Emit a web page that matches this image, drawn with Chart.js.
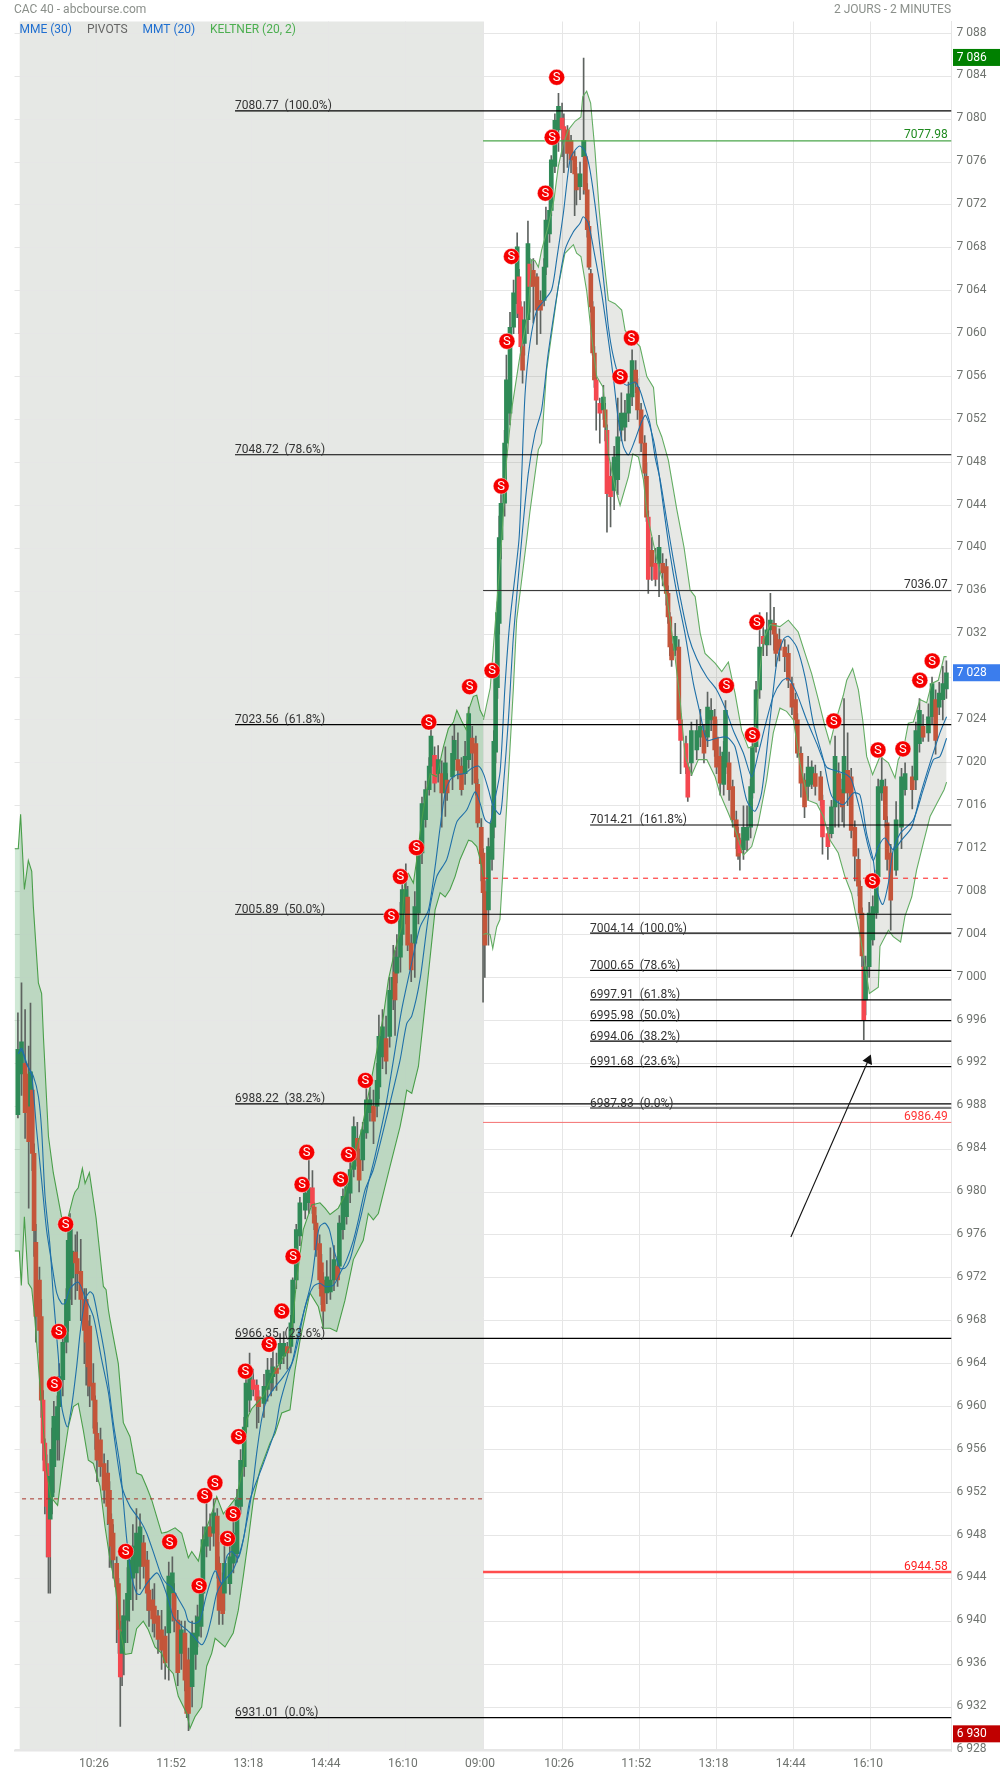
<!DOCTYPE html>
<html><head><meta charset="utf-8">
<style>html,body{margin:0;padding:0;background:#fff}canvas{display:block}</style>
<script src="https://cdn.jsdelivr.net/npm/chart.js@4"></script>
</head><body><canvas id="c" width="1000" height="1774"></canvas>
<script>
const barIndex=[-1,1,3,5,6,7,8,9,11,12,13,14,15,16,17,18,19,21,22,24,
26,27,28,29,31,32,34,36,37,38,39,41,42,43,45,47,49,50,51,52,
54,55,56,57,58,60,61,63,65,67,69,71,72,74,75,77,79,81,83,85,
86,88,90,92,93,94,96,98,99,101,102,104,106,108,110,111,113,114,117,119,
121,123,125,126,128,130,132,133,136,138,140,141,143,145,147,149,151,152,154,156,
159,161,163,164,165,167,168,169,171,173,175,177,178,180,182,184,186,188,189,191,
193,195,197,199,200,202,204,206,208,209,210,212,213,215,216,218,220,222,224,226,
228,229,231,233,235,237,238,241,242,244,246,248,250,252,254,255,257,258,259,261,
263,264,265,266,267,268,270,271,273,275,277,278,279,280,281,283,284,286,288,290,
292,293,295,296,298,300,302,303,305,307,309,310,312,314,315,316,317,318,319,320,
321,323,325,326,327,329,331,333,335,337,339,341,343,344,346,348,349,350,352,354,
356,358,360,361,362,363,365,367,368,371,372,374,377,379,381,383,385,387,388,390,
392,393,395,397,399,400,401,403,405,407,408,410,412,414,416,418,420,421,423,426,
428,430,432,433,435,437,439,441,443,446,447,450,452,454,456,458,459,461,463,465,
467,468,469,470,471,473,475,477,478,480,482,483,485,488,491,493,497,499,501,503,
506,508,510,512,514,516];
const opens=[6987.2,6991,6992,6991,6988,6989.5,6983.6,6975.3,6971.8,6968.4,6960.6,6956.6,6954.7,6951,6949.5,6951.6,6954.4,6956.9,6960,6962.5,
6966,6968,6972,6972,6974.4,6973.8,6972.6,6970,6970,6966,6967.5,6962.2,6960.6,6957.5,6956.9,6954.7,6953.8,6952.2,6949.5,6948.2,
6945.4,6943.5,6939.2,6937,6938,6940.1,6942,6944,6944.5,6945.1,6947.3,6945.7,6942.9,6942,6941.4,6940.5,6939.2,6938.6,6938.9,6942.6,
6942.6,6940.1,6937,6938.9,6934.8,6936.4,6933.9,6936.9,6938.6,6939.5,6942.6,6947,6948.8,6948.2,6949.8,6945.4,6943.5,6942.6,6943.5,6945.4,
6946.3,6950.7,6954.4,6958.1,6960.6,6962.5,6962,6960.9,6960.3,6961.6,6962.2,6962.8,6963.6,6964,6964.7,6965.6,6965.6,6967.8,6971.8,6975.9,
6978.3,6979,6980.4,6978.6,6977.1,6975.2,6973.4,6971.8,6970.6,6970.7,6971.8,6973.1,6973.1,6976.5,6977.7,6979.9,6982.1,6985,6983,6983,
6985.5,6987.4,6988,6988,6989.8,6992.6,6994.3,6994.5,6998,7000.5,7000.4,7001.9,7004,7006,7007.5,7003.2,7003.2,7006,7011.6,7014.7,
7017.5,7019.7,7020.7,7019,7019,7017.2,7018.4,7018.7,7020.3,7020.3,7019.7,7019,7020.3,7022.3,7021.8,7018,7014,7011.6,7008,7006.3,
7011,7014,7021,7027,7033,7040.8,7044.2,7049.8,7052.6,7060.6,7062.8,7065.3,7062.5,7058.8,7059.1,7061.3,7066.5,7065.9,7065.3,7063.1,
7063.1,7066.2,7069.3,7071.5,7075.6,7079,7080.1,7079.3,7079,7078,7076.5,7074.9,7073.7,7076.5,7076.5,7073.4,7070,7065.6,7062.5,7058.2,
7055.7,7053.5,7052.9,7052.9,7051,7046.7,7045.4,7046.4,7051,7051.3,7052.6,7054.1,7056.6,7055,7052.9,7049.8,7046.7,7042.9,7039.8,7038.6,
7038.6,7038.6,7038.3,7035.8,7033.6,7031.1,7030.5,7030.8,7024,7021.8,7019.6,7020,7021.2,7022.4,7023,7022.4,7024,7024.3,7022.4,7020.6,
7018,7019.6,7020,7017.8,7014.7,7013.4,7012.8,7011.9,7012.8,7014,7017.2,7021.5,7026.8,7031.8,7031,7032.4,7033,7032,7031.5,7030.8,
7030.2,7027.4,7025.9,7024,7020.9,7018.4,7017.8,7018,7019,7018.7,7016.5,7013.4,7013.4,7015.9,7019,7017.5,7017.2,7019.3,7018.7,7014,
7011,7008.5,7006,7001,6997.9,7001,7003.5,7006,7009.4,7017.2,7017.8,7014.4,7011.6,7010,7014,7017.5,7018.7,7018.4,7021.8,7023.4,
7022.8,7024.3,7025.9,7025.2,7025.9,7026.9];
const closes=[6993.3,6994,6987.4,6984.7,6991.2,6983.6,6976.4,6968.4,6967.1,6960.6,6956.6,6954,6950.7,6946,6953.5,6956,6959.1,6960,6962.8,6966,
6970,6975.5,6977,6974.5,6973.4,6972.4,6970,6967.1,6966,6963.7,6961.9,6960.6,6957.5,6955,6954.4,6952.2,6950.7,6949.1,6947,6945.7,
6943.2,6939.2,6934.8,6939,6940.5,6942.6,6945.7,6947,6948.2,6948.8,6945.1,6942.6,6941,6940.2,6939.8,6938.3,6937.3,6936.1,6944.2,6944.5,
6940.1,6935.2,6939.2,6934.5,6931.4,6931.4,6938.9,6938.9,6940.4,6942.6,6947.6,6948.8,6947.9,6950.1,6944.8,6941,6940.7,6945.4,6946,6948.2,
6951.3,6955,6958.1,6962.2,6963.3,6961.6,6960.6,6960,6961.9,6963.4,6963.1,6963.7,6963.1,6965.9,6965.9,6965,6967.8,6971.8,6976.5,6979,
6979.9,6980.4,6978.6,6977.1,6974.6,6971.8,6970.3,6968.9,6972.1,6971.8,6973.7,6971.8,6977.1,6979.6,6980.5,6982.1,6986.1,6983,6981.1,6985.8,
6988.6,6988.6,6986.6,6990.4,6994.5,6995.4,6992.2,6998.8,7000,6997.9,7001.9,7006,7008.2,7008.2,7003,7000.7,7006.6,7011.5,7016.2,7017.5,
7019.7,7022.5,7018.1,7020.3,7017.2,7020,7017.2,7020.9,7022.1,7019.3,7017.5,7020.6,7024.6,7020.9,7018.1,7014.4,7010.6,7007.9,7003,7012.2,
7014.4,7022,7028,7034,7041,7044.2,7049.8,7055.7,7060.6,7063.8,7068.1,7061.9,7058.8,7056.6,7061.3,7068.4,7064.4,7064.4,7062.2,7062.2,
7066.2,7070.6,7071.5,7076.2,7079.9,7081.2,7079.1,7078.1,7076.8,7076.2,7074.9,7073.4,7074.9,7078,7073.4,7069.7,7066.2,7062.5,7058.2,7055.7,
7053.8,7052.6,7054.1,7051.3,7045.1,7044.8,7048.5,7050.4,7052.6,7052.6,7054.4,7057.5,7055.4,7052.9,7049.8,7047,7042.9,7037.1,7038.3,7037.1,
7040.1,7037.7,7035.8,7033.6,7030.8,7029.6,7031.8,7024,7022.1,7019.6,7016.8,7023,7023,7023.4,7020.9,7025.2,7024.9,7021.2,7019.6,7018.1,
7021,7024.9,7017.5,7014.7,7013.1,7011.3,7011.6,7014,7014,7017.8,7021.5,7026.8,7030.8,7031.1,7032.4,7033.3,7032,7030.2,7030.5,7029.9,
7027.7,7025.2,7024,7020.9,7018.1,7015.9,7019.6,7019.6,7017.8,7016.5,7013.1,7012.2,7015.9,7020.6,7016.5,7015.9,7020.6,7017.2,7013.7,7011.3,
7008.5,7006,7002,6996,7001,7006,7006.6,7009.4,7017.8,7018.4,7014.7,7011,7007.2,7014.7,7018.7,7019,7017.5,7023,7024.9,7022.4,
7024.3,7027.4,7022.1,7026.5,7027.4,7028.4];
const highs=[6996.7,6999.5,6997,6993.6,6997.6,6991,6984.5,6977,6973,6970,6961.5,6957,6955.5,6952,6956,6958,6960.5,6961,6964,6967,
6971,6976.5,6978,6976.5,6976,6976.3,6975.6,6971,6971,6968,6968.5,6964,6961,6958.5,6958,6955.6,6955,6953,6950,6949,
6946,6944,6940,6940.5,6942,6945,6947,6949,6950.5,6950,6948,6946.5,6944,6943,6943.5,6941,6941,6939.5,6945.5,6946,
6943.5,6941,6940,6940,6935.5,6937.5,6940,6940.5,6941.5,6943.6,6948.8,6951,6950,6951.4,6950.5,6946,6944.5,6947,6947,6949.5,
6952.3,6956,6959,6963,6965,6963.5,6962.5,6961.5,6963,6964.5,6964.5,6965.6,6965,6966.8,6967,6966,6968.5,6972,6977,6979.5,
6980.5,6983,6982,6979,6977.8,6976,6974.2,6972.5,6973.6,6974.8,6975,6974,6977.8,6980.3,6981.6,6983.5,6987,6986.5,6984,6986.5,
6990.5,6990,6989.5,6992,6996.5,6997,6996.4,7000,7003,7002.5,7004,7007,7008.8,7010.6,7008.5,7004,7008,7012.4,7016.8,7018.3,
7020.5,7023.4,7021.5,7021.6,7020.2,7021.5,7019,7022.5,7023.5,7022.8,7020.5,7022,7025.2,7023.4,7022.5,7018.5,7014.8,7012,7009,7013,
7016,7023,7029,7035,7043,7046,7051,7058,7062,7065,7069.4,7066,7063,7059.5,7063,7070.5,7067,7067,7065.6,7064,
7067,7071.8,7072.5,7076.6,7080.5,7082.4,7081.5,7080.5,7079.4,7078.5,7077,7075.5,7076,7085.7,7078,7074,7070.5,7066,7063,7058.8,
7056.2,7054,7055.2,7053.5,7051.5,7048,7049.5,7054,7054.5,7053.8,7055.5,7058.5,7057.5,7055.8,7053.5,7050.5,7048,7043.5,7041,7040,
7041.2,7039.5,7039,7036.5,7034,7031.8,7033,7031.5,7024.6,7022.5,7020,7023.8,7024,7025,7023.6,7026.6,7026,7025,7024,7021.5,
7022,7025.8,7021,7018.4,7015.5,7014,7013,7016,7016,7018.5,7022.5,7027.6,7034,7033,7034,7035.8,7034.5,7033,7032.5,7031.5,
7031,7028,7026.5,7024.6,7021.5,7019,7020.6,7020.2,7019.8,7019.2,7017,7014,7016.5,7022.5,7020,7018.5,7026,7022.8,7019.5,7014.6,
7012,7009,7006.5,7002,7002,7007,7007.6,7010,7018.5,7020.5,7018.5,7015,7012.4,7016.4,7019.5,7020,7019.7,7023.8,7026,7024.5,
7025.5,7028,7026.8,7027.5,7029,7029.5];
const lows=[6986.9,6989,6985,6978.5,6986,6982,6974,6966,6965,6959,6955,6950,6946,6942.6,6942.6,6950,6952,6955,6955,6961,
6965,6967,6970,6969.5,6970,6970.8,6968,6964,6962,6961,6960,6958,6956,6953,6953.5,6951,6949,6945,6945,6944,
6938,6937,6930.2,6934,6935,6938,6940,6941,6942,6943,6944,6941,6939.5,6939,6938.5,6937,6935.5,6934.6,6934.5,6940,
6939,6934,6935.5,6933.5,6931,6929.8,6932,6935.5,6937.6,6938.5,6941,6946,6946.6,6947,6944,6939.7,6939.7,6941,6942.5,6944.5,
6945.5,6950,6953.5,6957.5,6959.5,6961,6958,6958.5,6959,6960.5,6961,6961.5,6961.5,6963.5,6964,6963.5,6965,6967,6971,6975,
6977.5,6978,6978,6976.5,6974,6971,6969.5,6967.3,6969.6,6970,6970.8,6971.2,6972.3,6975.6,6977,6979,6981.4,6982.4,6980,6982,
6985,6986.6,6984.5,6987,6988.7,6991.5,6991,6993.5,6997,6994.6,6999.5,7000.5,7003,7005,7002.5,6999.6,7000,7005,7010.6,7014,
7017,7019,7017.3,7018.2,7014,7015,7016.5,7017.5,7019.3,7018.5,7017,7018,7019.5,7018,7017,7014,7009,6997.7,7000,7003,
7010,7013,7020,7026,7032,7039,7043,7048.5,7051.5,7060,7061.5,7060,7058,7055.4,7058,7060,7062,7061,7059,7060,
7062.6,7065.5,7068.5,7071,7075,7077,7076.5,7075,7075.5,7075,7071,7072,7072.5,7073,7073,7069,7066,7062,7058,7055,
7051,7049.8,7052,7050,7041.5,7042,7043.6,7045,7050,7050,7051.8,7053.3,7054.5,7052,7049,7046.5,7042.5,7035.8,7037,7036.5,
7035.5,7036.5,7034.7,7033,7030,7029,7030,7023.5,7019,7019,7016.4,7018.8,7020.3,7021.5,7020,7021.5,7023,7020.6,7019,7017,
7017,7019,7016.5,7014,7012,7011,7010,7011,7011.8,7013,7016.7,7021,7026,7030,7030,7031,7030.5,7029,7029.5,7028.5,
7027,7024.5,7023.5,7020.5,7016.8,7014.9,7016.5,7017.6,7017,7016,7011.5,7011,7013,7014,7014,7014.5,7014,7016,7013,7009,
7007.6,7005.5,7001,6994.2,6996.5,7000,7003,7005.5,7009,7016.5,7014,7010,7004.4,7009.5,7012,7017,7015.7,7017.5,7021,7022,
7022,7023.6,7020.8,7024.5,7024,7026];
const brightBars=[13,14,15,16,56,130,132,163,231,278,279,284,302,303,321,323,327,329,350,354,368,371,372,401,414,447,450,470];

const upper1X=[-2.8,-0.8,0.5,2.6,4.8,6.7,7.6,10.4,12.2,13.2,16,18.7,23.4,25.2,29.9,30.8,32.6,34.9,36.4,38.8,42.5,46.6,48.1,49.4,50.3,54.9,57.7,61.4,65.1,67.9,70.7,73.5,79,81.8,86.5,90.2,93.9,95.8,99.5,102.3,106.9,109.7,113.4,117.1,120.8,124.5,126.4,129.2,131.9,135.7,141.2,150.5,152.4,154.2,157.9,162.6,167.2,170,172.8,177.4,181.1,183.9,187.6,190.4,199.7,202.5,205.3,209,212.7,214.6,216.4,219.2,221.1,223.9,226.3,228.5,232.2,235.9,238.7,241.5,243.4,246.1,248.6,249.9,252.6,254.5,256.4,258.2];
const upper1Y=[7012,7012,7015.2,7008.2,7010.9,7009.9,7006.6,6999.5,6998.5,6994.5,6985.2,6981.8,6977.6,6976.5,6979.6,6980,6980.4,6982.2,6980.8,6981.8,6977.6,6971.2,6970.9,6969,6968.1,6964,6958.5,6957.2,6953.8,6953.6,6952.5,6951.3,6948.2,6948.3,6948.7,6948.2,6945.9,6946.5,6945.6,6947.9,6950,6951.6,6950,6950.8,6951.6,6954.4,6958.8,6959.8,6960.3,6961,6963.1,6965.6,6968.7,6971.8,6976.5,6978.8,6979,6978.5,6977.9,6978.5,6979.7,6981.8,6984.2,6985.8,6993.9,6996.4,6999.8,7002.6,7004.7,7009.4,7009.7,7008.8,7011,7014.7,7017.2,7019,7018.7,7021.5,7023.2,7023.8,7024.9,7023.9,7023.1,7024.9,7026.2,7026.3,7024.9,7024.3];
const lower1X=[-2.8,-0.2,0.9,2.6,4.8,6.7,8.5,9.4,12.2,15,17.2,21.1,24.3,27.1,29.9,32.6,35.4,38.2,41,44.7,47.5,50.3,53.1,55.9,58.6,62.3,65.1,68.8,71.6,75.3,79,81.8,85.5,88.3,93,94.8,97.6,101.3,104.1,106.9,108.8,114.3,118.9,121.7,124.5,127.3,130.1,133.8,139.4,142.2,145.9,150.5,153.3,156.1,161.6,166.3,169.1,172.8,176.5,181.1,185.8,191.3,194.1,196.9,199.7,203.4,206.2,211.8,213.7,215.5,218.3,222,224.8,227.6,231.3,234.1,236.9,239.6,242.4,245.2,249.9,251.7,254.5,256.4,258.2];
const lower1Y=[6974.5,6974.5,6971.3,6977.7,6971.5,6971,6968,6966,6960,6954,6951.6,6950.8,6955,6958.1,6960,6960.3,6957.8,6955,6954.7,6952.6,6948.8,6945.7,6943.5,6939.2,6936.9,6937,6939.3,6940,6939.2,6937.6,6937,6935.8,6935.1,6933,6931.4,6930,6931.1,6932,6935.8,6937,6938.4,6937.6,6938.9,6941,6944.2,6947.6,6951.3,6954.1,6956.6,6957.5,6959.4,6959.7,6963.4,6966.2,6970.6,6969.3,6967.3,6967.3,6967,6969.9,6973.7,6975.5,6978,6977.4,6978,6980.5,6982.4,6986.1,6987.7,6989.5,6989.2,6991.7,6996,7000.4,7006.3,7007.9,7007.5,7008.2,7009.4,7011,7012.8,7012.7,7012.2,7011,7009.4];
const upper2X=[258.2,262,268.4,271.1,273.9,278.6,283.2,285,286.9,288.8,290.6,294.3,297.5,299.9,302.7,305.5,309.2,312.5,313.5,315.7,317.9,320.3,322.7,325.3,327.8,331.5,335.2,337.1,345.4,349.2,352.9,354.7,357.5,361.2,365.9,369.9,373.3,376.1,378.9,381.6,387.2,390.9,394.6,398.3,402,405.7,408.5,410.3,412.2,414.1,417.8,423.3,428,433.5,437.3,441,444.7,448.4,451.2,454,458.6,460.5,463.8,467,469.4,471.6,474.9,479,483.7,487.4,489.2,492,494.8,497.6,501.3,505,507.8,511.5,514.7,516.1];
const upper2Y=[7024,7027,7040.8,7048.2,7052.9,7058,7062,7066.9,7066.8,7066.2,7067.8,7070,7072.5,7075.6,7077.7,7079,7079.8,7080.2,7082.1,7082.6,7081.5,7077.1,7071.5,7066.9,7063.1,7062.8,7062.2,7060.3,7058.8,7056,7055,7051.6,7050.4,7048.2,7043.6,7040.1,7036.1,7035.5,7032.1,7030.2,7029.3,7028.5,7029.4,7026.5,7023,7021.4,7021.5,7024.6,7028.7,7031.5,7032.9,7032.7,7033.3,7032.2,7030.2,7028.3,7025.9,7023.4,7021.8,7023.7,7026.3,7027.7,7028.8,7026.8,7024,7020.6,7018.9,7020.6,7020,7018.6,7020.3,7021.2,7023.7,7023.8,7025.9,7025.6,7027.4,7027.7,7029.9,7029.9];
const lower2X=[258.2,259.5,261.9,263.4,265.6,267.4,269.3,272.1,274.9,276.7,282.3,284.1,288.8,290.6,293.4,299.9,303.6,308.3,310.1,312.5,315.7,318.5,321.3,324.9,327.8,331.5,334.3,339,341.4,344.5,347.3,349.2,354.7,360.3,364,367.7,370.5,374.2,377.9,382.6,387.2,390,394.6,399.2,402.9,407.6,411.3,415.9,419.6,423.3,427,430.8,434.5,439.1,443.8,447.5,451.2,455.8,459.5,463.2,467,469.7,473.1,478.1,479,483.7,486.4,490.5,492.9,496.7,499.4,503.1,506.9,510.6,514.7,516.1];
const lower2Y=[7004,7004.1,7004,7002.7,7004.7,7005.4,7010.6,7018.7,7027,7033.3,7040.8,7043.4,7049.2,7049.8,7056.6,7064.4,7067.5,7068.3,7067.5,7067.2,7064,7059.7,7056,7055,7048.8,7045.7,7044,7046.7,7048.8,7048.5,7046.4,7043.3,7039,7035.5,7031.1,7025.9,7020.6,7018.9,7020.3,7020.3,7018.7,7017.1,7015.3,7013.4,7011.4,7012.2,7014.4,7018.4,7022.8,7025.1,7024.8,7024,7019.9,7016.5,7016.2,7015,7012.8,7011.6,7009.4,7007.8,7004.7,7002.2,6998.5,6999.1,7002.9,7004.4,7003.8,7003.3,7005.7,7007.5,7010,7012.5,7015,7016.2,7017.5,7018.2];

const maAX=[-0.8,1.1,3.9,6.7,9.4,12.2,15,17.8,20.6,23.4,25.2,28,32.6,36.4,41,45.6,49.4,53.1,56.8,61.4,67,70.7,75.3,79,81.8,84.6,88.3,92,93.9,97.6,100.4,104.1,108.8,112.5,115.2,118,121.7,124.5,129.2,131.9,134.7,137.5,141.2,146.8,151.4,155.1,158.9,162.6,165.7,167.2,170,172.4,175,178.3,181.1,183.9,186.7,190.4,194.1,197.8,203.5,208.1,212.7,217.4,222.9,227.6,231.3,234.1,236.9,239.6,243.4,248,251.7,255.4,258.2,261,263.8,267.5,269.3,272.1,274.9,279.5,283.2,286.9,290.6,294.3,299.9,303.6,308.3,312,313.8,316.6,320.3,324,327.8,330.5,333.3,336.1,338.9,342.6,346.3,348.5,352.9,355.7,358.4,362.1,365.9,370.5,375.1,378.9,382.6,388.1,393.7,398.3,404.8,409.4,413.1,417.8,421.5,425.2,428,432.6,437.3,441.9,447.5,452.1,458.6,464.2,467.9,471.6,475.3,477.2,480.5,483.7,486.4,490.2,497.6,503.1,508.7,512.4,516.1];
const maAY=[6992.9,6993.4,6992,6990.8,6985.8,6981.1,6976.4,6973.4,6970.6,6969.6,6969.6,6971,6971.6,6970.2,6968.4,6964.4,6961.3,6956.6,6952.6,6950.7,6949.4,6948.2,6946,6944.2,6943.5,6943.2,6942.1,6941,6940,6939.8,6940.1,6942.5,6944.7,6943.5,6946,6946.5,6945.9,6947.6,6951.9,6955.6,6958.8,6960.6,6961.6,6962.8,6964,6966.8,6969.3,6971.8,6975.8,6976.8,6977.1,6976.5,6974.6,6972.9,6972.9,6973.7,6975.5,6978,6980.8,6983.3,6987.7,6992.3,6997,7000.7,7004.7,7006.3,7010.3,7014,7017.2,7018.4,7018.9,7019,7019.5,7019.7,7019,7017.5,7015.9,7015.2,7017.8,7024,7031.8,7040.8,7047,7050.7,7052.9,7058.2,7064.4,7067.8,7069.5,7070.3,7070.9,7070.3,7067.2,7063.8,7059.4,7056,7052,7049.5,7048.7,7050.1,7051.8,7052.4,7050.1,7047.3,7043.9,7039.5,7035.8,7032,7027.4,7024.6,7022.1,7022.3,7022.4,7021.5,7016.5,7015.5,7017.2,7024,7029.3,7031.5,7031.8,7030.8,7028,7023.7,7020.3,7016.9,7016.1,7017.2,7017,7013.4,7010.9,7008.2,7006.8,7008.8,7011.9,7013.4,7014.7,7017.5,7020.3,7020.6,7022.3];
const maBX=[-0.8,1.1,3.9,7.6,10.4,12.2,14.1,16.9,18.7,21.5,23.4,26.5,28.9,31.7,33.6,36.4,39.1,41,43.8,47.5,52.1,55.9,59.6,62.3,65.1,67,70.7,76.3,79,82.8,85.5,89.3,93,96.7,101.3,104.1,106.9,109.7,112.5,118.9,124.5,128.2,135.7,142.2,144.9,149.6,152.4,155.1,158.9,163.5,167.2,170,174.6,178.3,182.1,185.8,188.6,192.3,196.9,204.3,211.8,215.5,218.3,222.9,227.6,232.2,237.8,243.4,248.9,253.6,256.4,259.1,261.9,264.1,267.5,270.2,273,278,279.5,281.4,284.1,287.9,291.6,296.2,299,302.7,306.4,309.2,312,314.8,317.5,320.3,323.1,325.9,327.8,330.5,334.3,338,342.6,345.4,348.2,351,353.8,356.6,360.3,364,367.7,372.4,377,382.6,388.1,392.8,397.4,403,407.6,411.3,415,419.6,424.3,428,432.6,438.2,443.8,449.3,454,460.5,463.2,467.9,472.5,475.3,478.1,481.8,486.4,491,496.7,501.3,506.9,512.4,516.1];
const maBY=[6992.9,6993.2,6991.9,6990.8,6988.9,6985.8,6979.6,6974.9,6970.3,6964.7,6960,6958.1,6960,6963.7,6966.8,6970,6970.7,6970.4,6968.1,6964.7,6958.5,6954.4,6947.6,6944.2,6942.6,6942.5,6943.5,6944.5,6943.8,6942,6940.4,6939.7,6939.2,6938.6,6937.8,6938.6,6940.4,6942.6,6943.5,6944.8,6947.6,6951.3,6954.7,6957.8,6960.3,6963.1,6964.4,6966.2,6969.3,6971.2,6971.5,6971.2,6971.3,6972.4,6973.7,6975.5,6977.4,6980.2,6982.1,6987,6992.3,6995.7,6996.4,6999.8,7005.7,7009.4,7011,7014.5,7015.6,7017.3,7016.2,7014.7,7014.4,7016.2,7019.2,7027.1,7033.3,7040.8,7046.7,7054.4,7059.1,7062.2,7063,7064.1,7066.9,7071.2,7076.2,7077.1,7077.5,7077,7075.3,7072.1,7068.1,7063.8,7060.6,7057.9,7055.7,7055.2,7055.5,7054.7,7053.2,7051.6,7048.5,7046.4,7042.6,7038.9,7035.5,7031.8,7029.7,7028,7026.8,7025.1,7023,7020.9,7018.7,7020.9,7023.4,7026.2,7027.6,7027.9,7026.5,7024,7021.8,7019.6,7019.3,7018.9,7018.4,7015.6,7012.2,7010.9,7012.2,7013,7011.9,7012.8,7014,7016.9,7020,7022.8,7024.3];

const sellX=[299,296.5,292.7,273.8,271.3,268.1,263,250.5,227.8,220.9,212,207,192.5,159.8,183.1,157.2,178.7,152.2,145.9,138.9,125.7,121.9,108.7,103,118.8,115.7,99.9,83.5,59,19.3,21.8,25.6,340.6,334.3,410.5,393.5,408,453.3,477.9,491.8,474.8,501.2,508.1];
const sellY=[7083.9,7078.3,7073.1,7067.2,7059.3,7045.8,7028.6,7027.1,7023.8,7012.1,7009.4,7005.7,6990.4,6983.7,6983.5,6980.7,6981.2,6974,6968.9,6965.8,6963.3,6957.2,6952.9,6951.7,6950,6947.7,6943.3,6947.4,6946.5,6962.1,6967,6977,7059.6,7056,7033.1,7027.2,7022.6,7023.9,7021.2,7021.3,7009,7027.7,7029.5];

const fibLeftValues=[7080.77,7048.72,7023.56,7005.89,6988.22,6966.35,6931.01];
const fibLeftLabels=["7080.77  (100.0%)","7048.72  (78.6%)","7023.56  (61.8%)","7005.89  (50.0%)","6988.22  (38.2%)","6966.35  (23.6%)","6931.01  (0.0%)"];
const fibRightValues=[7014.21,7004.14,7000.65,6997.91,6995.98,6994.06,6991.68,6987.83];
const fibRightLabels=["7014.21  (161.8%)","7004.14  (100.0%)","7000.65  (78.6%)","6997.91  (61.8%)","6995.98  (50.0%)","6994.06  (38.2%)","6991.68  (23.6%)","6987.83  (0.0%)"];
const pivotValues=[7077.98,7036.07,6986.49,6944.58];
const pivotLabels=["7077.98","7036.07","6986.49","6944.58"];
const pivotColors=["#4aa64a","#333333","#f47070","#ff4d4d"];
const pivotTextColors=["#1f8a1f","#333333","#ff3333","#ff2020"];
const pivotWidths=[1.2,1,1,2.4];
const dashDay1=6951.4, dashDay2=7009.25;
const arrowX=[429.4,472.6], arrowY=[6975.8,6992.3];
const xTickValues=[43,86,129,172,215,258,302,345,388,431,474];
const xTickLabels=["10:26","11:52","13:18","14:44","16:10","09:00","10:26","11:52","13:18","14:44","16:10"];
const yTickValues=[7088,7084,7080,7076,7072,7068,7064,7060,7056,7052,7048,7044,7040,7036,7032,7028,7024,7020,7016,7012,7008,7004,7000,6996,6992,6988,6984,6980,6976,6972,6968,6964,6960,6956,6952,6948,6944,6940,6936,6932,6928];
const priceTags=[["7 086",7085.75,"#008000"],["7 028",7028.4,"#3b7ded"],["6 930",6929.5,"#c00000"]];

const X_MIN=-2.9,X_MAX=518.84,Y_MIN=6927.9,Y_MAX=7089.1;
const FONT='Roboto, sans-serif';
const zip=(xs,ys)=>xs.map((x,i)=>({x,y:ys[i]}));
const seg=(a,b,v)=>[{x:a,y:v},{x:b,y:v}];
const fmt=v=>{const s=String(Math.round(v));return s[0]+' '+s.slice(1)};
const bright=new Set(brightBars);
const bodyColor=barIndex.map((b,i)=>closes[i]>opens[i]?'#2f8a57':(bright.has(b)?'#f4474f':'#c4553a'));

const lineBase={type:'line',pointRadius:0,pointHoverRadius:0,fill:false,tension:0,clip:true};
const datasets=[];
// band fills (bottom)
datasets.push({...lineBase,data:zip(upper1X,upper1Y),borderWidth:0,fill:'+1',backgroundColor:'rgba(40,155,70,.22)',order:100});
datasets.push({...lineBase,data:zip(lower1X,lower1Y),borderWidth:0,order:100});
datasets.push({...lineBase,data:zip(upper2X,upper2Y),borderWidth:0,fill:'+1',backgroundColor:'rgba(120,130,110,.18)',order:100});
datasets.push({...lineBase,data:zip(lower2X,lower2Y),borderWidth:0,order:100});
// wicks and bodies
datasets.push({type:'bar',data:barIndex.map((b,i)=>({x:b,y:[lows[i],highs[i]]})),backgroundColor:'#5e6360',barThickness:1,grouped:false,order:90});
datasets.push({type:'bar',data:barIndex.map((b,i)=>({x:b,y:[opens[i],closes[i]]})),backgroundColor:bodyColor,barThickness:4,grouped:false,order:80});
// band outlines
[[upper1X,upper1Y],[lower1X,lower1Y],[upper2X,upper2Y],[lower2X,lower2Y]].forEach(([a,b],i)=>{
  datasets.push({...lineBase,data:zip(a,b),borderColor:i<2?'#4a9f4a':'#63ad63',borderWidth:1.1,order:70});
});
// moving averages
datasets.push({...lineBase,data:zip(maAX,maAY),borderColor:'#1f70a8',borderWidth:1.1,tension:.25,order:60});
datasets.push({...lineBase,data:zip(maBX,maBY),borderColor:'#1f70a8',borderWidth:1.1,tension:.25,order:60});
// retracement and pivot lines
fibLeftValues.forEach(v=>datasets.push({...lineBase,data:seg(119.9,X_MAX,v),borderColor:'#000',borderWidth:1.2,order:50}));
fibRightValues.forEach(v=>datasets.push({...lineBase,data:seg(317.6,X_MAX,v),borderColor:'#000',borderWidth:1.2,order:50}));
pivotValues.forEach((v,i)=>datasets.push({...lineBase,data:seg(258,X_MAX,v),borderColor:pivotColors[i],borderWidth:pivotWidths[i],order:50}));
datasets.push({...lineBase,data:seg(1.3,258,dashDay1),borderColor:'#a8322a',borderWidth:1,borderDash:[4,4],order:50});
datasets.push({...lineBase,data:seg(258,516.8,dashDay2),borderColor:'#ff1a1a',borderWidth:1,borderDash:[5,5],order:50});
// arrow
datasets.push({...lineBase,data:zip(arrowX,arrowY),borderColor:'#111',borderWidth:1.1,
  pointRadius:[0,6],pointStyle:'triangle',pointBackgroundColor:'#111',pointBorderWidth:0,pointRotation:23.5,order:40});
// sell markers
const sellDs={...lineBase,data:zip(sellX,sellY),showLine:false,pointRadius:8,pointBackgroundColor:'#f50000',pointBorderColor:'rgba(255,255,255,.7)',pointBorderWidth:.6,order:10,clip:false};
datasets.push(sellDs);
const sellIdx=datasets.length-1;

const decor={id:'decor',
beforeDraw(c){const {ctx,scales:{x},chartArea:a}=c;ctx.save();ctx.fillStyle='#e6e8e5';
  const l=x.getPixelForValue(0),r=x.getPixelForValue(258);ctx.fillRect(l,a.top,r-l,a.bottom-a.top);ctx.restore();},
afterDatasetsDraw(c){const {ctx,scales:{x,y},chartArea:a}=c;ctx.save();
  // S letters
  ctx.textAlign='center';ctx.textBaseline='middle';ctx.fillStyle='#fff';ctx.font='13px '+FONT;
  c.getDatasetMeta(sellIdx).data.forEach(p=>ctx.fillText('S',p.x,p.y+.5));
  // fib labels
  ctx.textAlign='left';ctx.textBaseline='alphabetic';ctx.font='12px '+FONT;ctx.fillStyle='#333';
  fibLeftValues.forEach((v,i)=>ctx.fillText(fibLeftLabels[i],x.getPixelForValue(119.9),y.getPixelForValue(v)-1.5));
  fibRightValues.forEach((v,i)=>ctx.fillText(fibRightLabels[i],x.getPixelForValue(317.6),y.getPixelForValue(v)-1.5));
  // pivot labels
  ctx.textAlign='right';
  pivotValues.forEach((v,i)=>{ctx.fillStyle=pivotTextColors[i];ctx.fillText(pivotLabels[i],947.7,y.getPixelForValue(v)-2.5)});
  // price tags
  ctx.textAlign='left';ctx.textBaseline='middle';
  priceTags.forEach(([t,v,col])=>{const cy=y.getPixelForValue(v);
    ctx.fillStyle=col;ctx.fillRect(953,cy-8.5,47,17);ctx.fillStyle='#fff';ctx.fillText(t,956.7,cy+.5)});
  // header
  ctx.font='12px '+FONT;ctx.textBaseline='middle';
  ctx.fillStyle='#8a8f8a';ctx.fillText('CAC 40 - abcbourse.com',14,9.5);
  ctx.textAlign='right';ctx.fillText('2 JOURS - 2 MINUTES',951,9.5);
  ctx.textAlign='left';
  [['MME (30)','#1f6fd0',19.5],['PIVOTS','#666',87],['MMT (20)','#1f6fd0',142.5],['KELTNER (20, 2)','#4caf50',210]].forEach(([t,col,px])=>{ctx.fillStyle=col;ctx.fillText(t,px,29.5)});
  ctx.restore();}
};

new Chart(document.getElementById('c'),{type:'bar',data:{datasets},plugins:[decor],options:{
  responsive:false,animation:false,devicePixelRatio:1,events:[],
  layout:{padding:{left:14.5,top:21.5,right:0,bottom:0}},
  plugins:{legend:{display:false},tooltip:{enabled:false},title:{display:false}},
  scales:{
    x:{type:'linear',offset:false,min:X_MIN,max:X_MAX,
      afterBuildTicks:s=>{s.ticks=xTickValues.map(v=>({value:v}))},
      afterFit:s=>{s.height=23},
      grid:{color:'#e6e6e6',lineWidth:1,drawTicks:false,offset:false},
      border:{display:true,color:'#e6e6e6',width:1.5},
      ticks:{autoSkip:false,maxRotation:0,minRotation:0,padding:6,labelOffset:-3,color:'#6f736f',font:{family:FONT,size:12},
        callback:v=>xTickLabels[xTickValues.indexOf(v)]}},
    y:{type:'linear',position:'right',min:Y_MIN,max:Y_MAX,
      afterBuildTicks:s=>{s.ticks=yTickValues.map(v=>({value:v}))},
      afterFit:s=>{s.width=48.5},
      grid:{color:'#e6e6e6',lineWidth:1,drawTicks:false},
      border:{display:true,color:'#e6e6e6',width:1},
      ticks:{autoSkip:false,padding:5,labelOffset:-0.8,color:'#6f736f',font:{family:FONT,size:12},callback:v=>fmt(v)}}
  }}});
</script></body></html>
